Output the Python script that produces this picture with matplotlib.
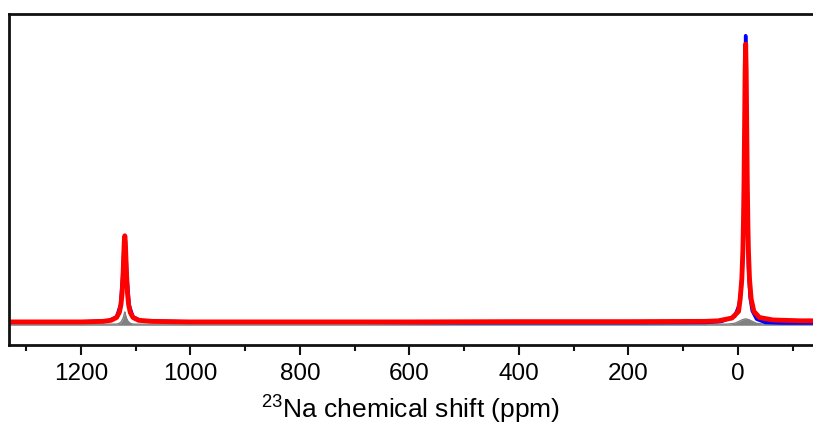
import numpy as np
import matplotlib.pyplot as plt

plt.rcParams['font.family'] = ['Liberation Sans', 'DejaVu Sans']
plt.rcParams['mathtext.fontset'] = 'custom'
plt.rcParams['mathtext.rm'] = 'Liberation Sans'

# spectra (ppm, normalised intensity)
red_ppm = [1330, 1200, 1160, 1145, 1135, 1130, 1127, 1125, 1123, 1122, 1121, 1120,
           1119, 1118, 1117, 1115, 1113, 1110, 1105, 1095, 1070, 1000, 800, 600,
           400, 200, 60, 36, 11, -1, -4, -7, -9, -10, -11, -12, -13, -14, -15,
           -16, -17, -18, -19, -21, -24, -29, -39, -64, -114, -140]
red_int = [0.0, 0.0, 0.002, 0.006, 0.016, 0.034, 0.062, 0.102, 0.179, 0.234, 0.288, 0.31,
           0.288, 0.234, 0.179, 0.102, 0.062, 0.034, 0.016, 0.006, 0.002, 0.0, 0.0, 0.0,
           0.001, 0.001, 0.002, 0.004, 0.014, 0.038, 0.083, 0.155, 0.26, 0.36, 0.5, 0.69,
           0.9, 1.0, 0.9, 0.69, 0.5, 0.36, 0.26, 0.155, 0.083, 0.038, 0.016, 0.007,
           0.004, 0.004]

blue_ppm = [1330, 1200, 1150, 1135, 1128, 1124, 1122, 1120, 1118, 1116, 1112, 1105,
            1090, 1000, 700, 500, 200, 60, 30, 6, -2, -6, -9, -11, -12, -13, -14,
            -15, -16, -17, -19, -22, -26, -34, -50, -80, -140]
blue_int = [0.0, 0.0, 0.004, 0.018, 0.06, 0.16, 0.25, 0.30, 0.25, 0.16, 0.06, 0.018,
            0.004, 0.0, -0.001, -0.003, -0.003, -0.002, 0.002, 0.02, 0.06, 0.12, 0.24,
            0.42, 0.62, 0.88, 1.03, 0.88, 0.62, 0.42, 0.2, 0.09, 0.04, 0.01, -0.002,
            -0.004, -0.004]

grey_ppm = [1330, 1136, 1130, 1126, 1123, 1121, 1120, 1119, 1117, 1114, 1110, 1104,
            600, 20, 6, -2, -8, -14, -20, -26, -34, -48, -140]
grey_int = [-0.008, -0.008, -0.005, 0.002, 0.014, 0.028, 0.036, 0.028, 0.014, 0.002,
            -0.005, -0.008, -0.008, -0.008, -0.005, 0.002, 0.008, 0.011, 0.008, 0.002,
            -0.005, -0.008, -0.008]

major_ticks = [1200, 1000, 800, 600, 400, 200, 0]
minor_ticks = [1300, 1100, 900, 700, 500, 300, 100, -100]

fig = plt.figure(figsize=(8.13, 4.35), dpi=100)
ax = fig.add_axes([9 / 813, 89 / 435, 804 / 813, 331 / 435])

ax.fill_between(grey_ppm, -0.012, grey_int, color='#808080', lw=0)
ax.plot(grey_ppm, grey_int, color='#808080', lw=1.0)
ax.plot(blue_ppm, blue_int, color='#0000ff', lw=2.5)
ax.plot(red_ppm, red_int, color='#ff0000', lw=3.5)

ax.set_xlim(1331.5, -137)
ax.set_ylim(-0.083, 1.108)

ax.set_xticks(major_ticks)
ax.set_xticks(minor_ticks, minor=True)
ax.set_yticks([])
ax.tick_params(axis='x', which='major', direction='out', length=7.5, width=1.5,
               labelsize=17.5, pad=5, color='#111111')
ax.tick_params(axis='x', which='minor', direction='out', length=4.5, width=1.5,
               color='#111111')

for side in ['left', 'top', 'bottom']:
    ax.spines[side].set_linewidth(2)
    ax.spines[side].set_color('#111111')
ax.spines['right'].set_visible(False)

ax.set_xlabel(r'$^{\mathregular{23}}$Na chemical shift (ppm)', fontsize=19, labelpad=5)

fig.savefig('out.png', dpi=100)
